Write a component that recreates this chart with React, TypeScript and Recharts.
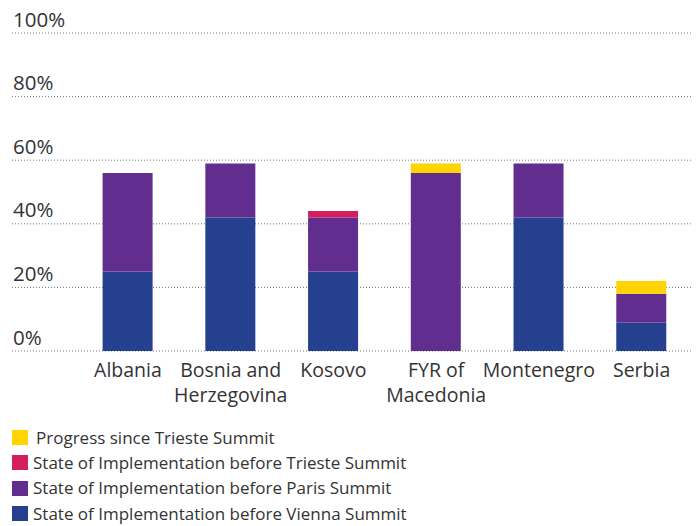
import React from 'react';
import { BarChart, Bar, XAxis, YAxis, CartesianGrid } from 'recharts';

// categories and stacked values (percent)
const countries = ['Albania', 'Bosnia and\nHerzegovina', 'Kosovo', 'FYR of\nMacedonia', 'Montenegro', 'Serbia'];
const beforeVienna = [25, 42, 25, 0, 42, 9];
const beforeParis = [31, 17, 17, 56, 17, 9];
const beforeTrieste = [0, 0, 2, 0, 0, 0];
const sinceTrieste = [0, 0, 0, 3, 0, 4];
const yTicks = [0, 20, 40, 60, 80, 100];

const series = [
  { key: 'vienna', name: 'State of Implementation before Vienna Summit', color: '#24408E' },
  { key: 'paris', name: 'State of Implementation before Paris Summit', color: '#612D8F' },
  { key: 'trieste', name: 'State of Implementation before Trieste Summit', color: '#D31F5E' },
  { key: 'progress', name: 'Progress since Trieste Summit', color: '#FFD400' },
];

const data = countries.map((c, i) => ({
  name: c,
  vienna: beforeVienna[i],
  paris: beforeParis[i],
  trieste: beforeTrieste[i],
  progress: sinceTrieste[i],
}));

const FONT = "'Open Sans', sans-serif";

const YTick = ({ y, payload }: any) => (
  <text x={13} y={y - 6.5} fontSize={20.5} fill="#333" fontFamily={FONT}>
    {payload.value}%
  </text>
);

const XTick = ({ x, payload }: any) => {
  const lines = String(payload.value).split('\n');
  return (
    <g>
      {lines.map((l, i) => (
        <text key={i} x={x} y={377 + i * 24.5} textAnchor="middle" fontSize={19.5} fill="#333" fontFamily={FONT}>
          {l}
        </text>
      ))}
    </g>
  );
};

export default function App() {
  const legendItems = [...series].reverse();
  return (
    <div style={{ position: 'absolute', left: 0, top: 0, width: 696, height: 526, fontFamily: FONT }}>
      <BarChart width={696} height={526} data={data} margin={{ top: 33, right: 3, bottom: 0, left: 0 }}>
        <CartesianGrid vertical={false} stroke="#777" strokeDasharray="1 2" />
        <XAxis
          dataKey="name"
          height={175}
          axisLine={false}
          tickLine={false}
          interval={0}
          padding={{ left: 64.6, right: 0 }}
          tick={<XTick />}
        />
        <YAxis
          width={12}
          domain={[0, 100]}
          ticks={yTicks}
          axisLine={false}
          tickLine={false}
          interval={0}
          tick={<YTick />}
        />
        {series.map((s) => (
          <Bar key={s.key} dataKey={s.key} name={s.name} stackId="a" fill={s.color} barSize={50} isAnimationActive={false} />
        ))}
      </BarChart>
      <div style={{ position: 'absolute', left: 12, top: 425 }}>
        {legendItems.map((s, i) => (
          <div key={s.key} style={{ display: 'flex', alignItems: 'center', height: 25.3 }}>
            <span style={{ display: 'inline-block', width: 16, height: 15, background: s.color }} />
            <span style={{ marginLeft: i === 0 ? 8 : 5, fontSize: 17, lineHeight: '20px', color: '#333', whiteSpace: 'nowrap' }}>{s.name}</span>
          </div>
        ))}
      </div>
    </div>
  );
}
